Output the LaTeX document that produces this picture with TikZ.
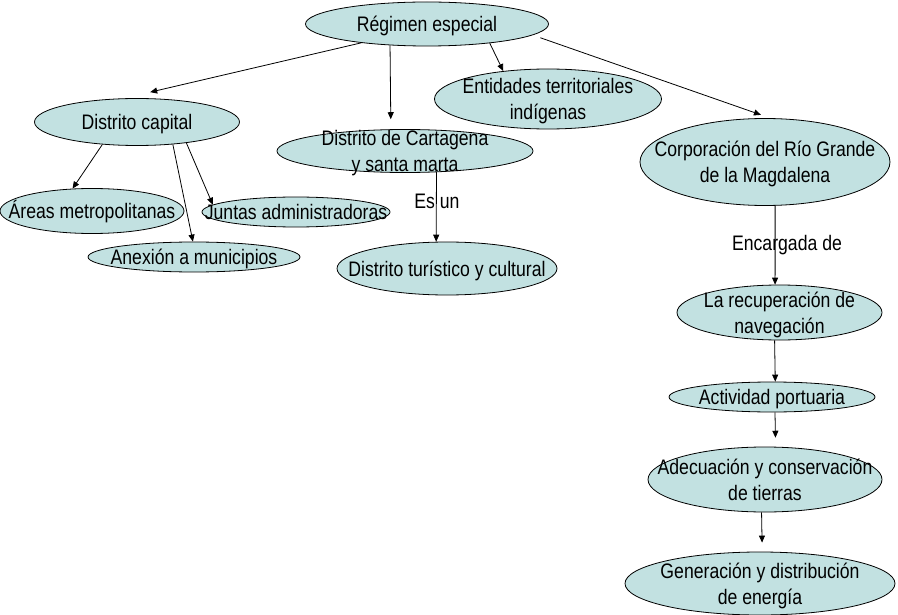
\documentclass[tikz,border=0pt]{standalone}
\usepackage{fontspec}
\setmainfont{Liberation Sans}[FakeStretch=0.84]
\usepackage{tikz}
\usetikzlibrary{shapes.geometric,arrows.meta}
\definecolor{BubFill}{HTML}{C2E1E1}
\newcommand{\bubtext}[1]{\makebox[0pt]{\raisebox{-.37em}{\begin{tabular}{@{}c@{}}#1\end{tabular}}}}

\begin{document}
\begin{tikzpicture}[x=1bp,y=-1bp,>={Triangle[length=7bp,width=6bp]},
    font=\fontsize{21bp}{26bp}\selectfont]
  \tikzstyle{bubble}=[ellipse,draw=black,line width=0.8bp,fill=BubFill,
    inner sep=0pt,text height=0pt,text depth=0pt]
  \tikzstyle{link}=[->,draw=black,line width=0.8bp]
  \useasboundingbox (0,0) rectangle (898,615);
  \node[bubble,minimum width=243bp,minimum height=44bp] (re) at (427,24) {\bubtext{Régimen especial}};
  \node[bubble,minimum width=205bp,minimum height=47bp] (dc) at (137,122) {\bubtext{Distrito capital}};
  \node[bubble,minimum width=227bp,minimum height=60bp] (en) at (548,99) {\bubtext{Entidades territoriales\\indígenas}};
  \node[bubble,minimum width=256bp,minimum height=43bp] (cg) at (405,151) {\bubtext{Distrito de Cartagena\\y santa marta}};
  \node[bubble,minimum width=250bp,minimum height=87bp] (co) at (765,162) {\bubtext{Corporación del Río Grande\\de la Magdalena}};
  \node[bubble,minimum width=184bp,minimum height=45bp] (ar) at (92,211) {\bubtext{Áreas metropolitanas}};
  \node[bubble,minimum width=188bp,minimum height=30bp] (ju) at (296,212) {\bubtext{Juntas administradoras}};
  \node[bubble,minimum width=212bp,minimum height=30bp] (an) at (194,257) {\bubtext{Anexión a municipios}};
  \node[bubble,minimum width=220bp,minimum height=53bp] (dt) at (447,268.5) {\bubtext{Distrito turístico y cultural}};
  \node[bubble,minimum width=205bp,minimum height=55bp] (lr) at (779.5,312.5) {\bubtext{La recuperación de\\navegación}};
  \node[bubble,minimum width=206bp,minimum height=30bp] (ap) at (772,397) {\bubtext{Actividad portuaria}};
  \node[bubble,minimum width=234bp,minimum height=65bp] (ad) at (765,479.5) {\bubtext{Adecuación y conservación\\de tierras}};
  \node[bubble,minimum width=270bp,minimum height=63bp] (ge) at (760,583.5) {\bubtext{Generación y distribución\\de energía}};
  % links
  \draw[link,shorten >=27bp] (re.196) -- (dc.119);
  \draw[link,shorten >=10bp] (re.210) -- (cg.123);
  \draw[link] (re.343) -- (en.148.5);
  \draw[link,shorten <=8bp,shorten >=10bp] (re.354) -- (co.83.4);
  \draw[link] (dc.213) -- (ar.131);
  \draw[link] (dc.328) -- (an.94);
  \draw[link] (dc.337) -- (ju.175);
  \draw[link] (cg.326) -- (dt.112.6);
  \node (esun) at (437,201) {Es un};
  \draw[link] (co.283) -- (lr.99.3);
  \node (encargada) at (787,245) {Encargada de};
  \draw[link] (lr.260.7) -- (ap.78.7);
  \draw[link,shorten >=9bp] (ap.281.3) -- (ad.72.8);
  \draw[link,shorten >=9bp] (ad.264.7) -- (ge.86.4);
\end{tikzpicture}
\end{document}
